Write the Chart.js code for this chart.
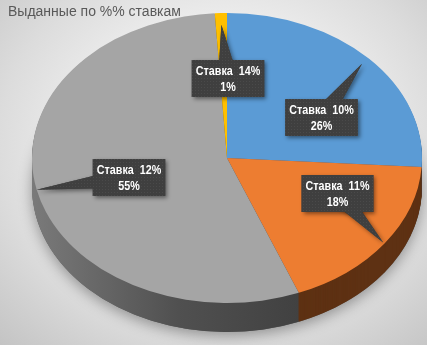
<!DOCTYPE html>
<html><head><meta charset="utf-8">
<script src="https://cdn.jsdelivr.net/npm/chart.js@4"></script>
<style>
html,body{margin:0;padding:0;width:427px;height:345px;overflow:hidden;background:#fff}
#wrap{position:relative;width:427px;height:345px;background:radial-gradient(ellipse 75% 80% at 52% 42%, #ffffff 0%, #f6f6f6 30%, #dcdcdc 70%, #c4c4c4 100%)}
canvas{display:block}
</style></head>
<body><div id="wrap"><canvas id="c" width="427" height="345"></canvas></div>
<script>
// ---- data ----
const categories = ['Ставка  10%', 'Ставка  11%', 'Ставка  12%', 'Ставка  14%'];
const shares = [26, 18, 55, 1];
const titleText = 'Выданные по %% ставкам';

// ---- styles / layout ----
const topColors = ['#5B9BD5', '#ED7D31', '#A5A5A5', '#FFC000'];
const sideColors = ['#2E5C88', '#5E3113', null, '#8C6A00'];
const GEOM = {cx: 227, cy: 158, rx: 195, ry: 145, depth: 29};
const tipFrac = [0.95, 0.99, 1.0, 0.92];
const boxCenter = [[321.5, 117.5], [337.5, 193.5], [129, 177.5], [228, 78.5]];
const labelFont = 'bold 12.5px "Liberation Sans", Arial, sans-serif';
const textSqueeze = 0.86;

function mapCtx(ctx, a0, dy) {
  const r = a0.outerRadius;
  ctx.translate(GEOM.cx, GEOM.cy + dy);
  ctx.scale(GEOM.rx / r, GEOM.ry / r);
  ctx.translate(-a0.x, -a0.y);
}
function slicePath(ctx, arc) {
  ctx.beginPath();
  ctx.moveTo(arc.x, arc.y);
  ctx.arc(arc.x, arc.y, arc.outerRadius, arc.startAngle, arc.endAngle);
  ctx.closePath();
}
function makePattern(ctx) {
  const p = document.createElement('canvas');
  p.width = 3; p.height = 3;
  const c = p.getContext('2d');
  c.fillStyle = '#3f3f3f'; c.fillRect(0, 0, 3, 3);
  c.fillStyle = '#4a4a4a'; c.fillRect(0, 0, 1, 1);
  return ctx.createPattern(p, 'repeat');
}

const pie3d = {
  id: 'pie3d',
  beforeDatasetsDraw(chart) {
    const ctx = chart.ctx, meta = chart.getDatasetMeta(0);
    const a0 = meta.data[0];
    const r = a0.outerRadius;
    // soft shadow under the pie
    ctx.save();
    mapCtx(ctx, a0, GEOM.depth);
    ctx.shadowColor = 'rgba(0,0,0,0.35)';
    ctx.shadowBlur = 14;
    ctx.shadowOffsetY = 4;
    ctx.beginPath();
    ctx.arc(a0.x, a0.y, r, 0, Math.PI * 2);
    ctx.fillStyle = '#555';
    ctx.fill();
    ctx.restore();
    // extruded side
    for (let dy = GEOM.depth; dy >= 1; dy--) {
      ctx.save();
      mapCtx(ctx, a0, dy);
      meta.data.forEach((arc, i) => {
        slicePath(ctx, arc);
        if (sideColors[i]) {
          ctx.fillStyle = sideColors[i];
        } else {
          const g = ctx.createLinearGradient(arc.x - r, 0, arc.x + r * 0.5, 0);
          g.addColorStop(0, '#7a7a7a');
          g.addColorStop(0.5, '#505050');
          g.addColorStop(1, '#3e3e3e');
          ctx.fillStyle = g;
        }
        ctx.fill();
      });
      ctx.restore();
    }
    ctx.save();
    mapCtx(ctx, a0, 0);
  },
  afterDatasetsDraw(chart) {
    const ctx = chart.ctx;
    ctx.restore();
    const meta = chart.getDatasetMeta(0);
    const pat = makePattern(ctx);
    ctx.save();
    ctx.font = labelFont;
    meta.data.forEach((arc, i) => {
      const mid = (arc.startAngle + arc.endAngle) / 2;
      const tx = GEOM.cx + tipFrac[i] * GEOM.rx * Math.cos(mid);
      const ty = GEOM.cy + tipFrac[i] * GEOM.ry * Math.sin(mid);
      const l1 = categories[i], l2 = shares[i] + '%';
      const w = Math.max(ctx.measureText(l1).width, ctx.measureText(l2).width) * textSqueeze + 8;
      const h = 37;
      const [bx, by] = boxCenter[i];
      let vx = tx - bx, vy = ty - by;
      const len = Math.hypot(vx, vy) || 1;
      const px = -vy / len * 10, py = vx / len * 10;
      const shape = () => {
        ctx.beginPath();
        ctx.moveTo(tx, ty);
        ctx.lineTo(bx + px, by + py);
        ctx.lineTo(bx - px, by - py);
        ctx.closePath();
        ctx.fill();
        ctx.fillRect(bx - w / 2, by - h / 2, w, h);
      };
      ctx.save();
      ctx.shadowColor = 'rgba(0,0,0,0.45)';
      ctx.shadowBlur = 4;
      ctx.shadowOffsetX = 2;
      ctx.shadowOffsetY = 2;
      ctx.fillStyle = '#3f3f3f';
      shape();
      ctx.restore();
      ctx.fillStyle = pat;
      shape();
      ctx.save();
      ctx.translate(bx, by);
      ctx.scale(textSqueeze, 1);
      ctx.fillStyle = '#ffffff';
      ctx.textAlign = 'center';
      ctx.textBaseline = 'middle';
      ctx.fillText(l1, 0, -7);
      ctx.fillText(l2, 0, 9);
      ctx.restore();
    });
    ctx.restore();
  }
};

new Chart(document.getElementById('c'), {
  type: 'pie',
  data: {
    labels: categories,
    datasets: [{
      data: shares,
      backgroundColor: topColors,
      borderWidth: 0,
      clip: false
    }]
  },
  options: {
    responsive: false,
    animation: false,
    events: [],
    layout: {padding: {left: 8, right: 8, top: 0, bottom: 6}},
    plugins: {
      legend: {display: false},
      tooltip: {enabled: false},
      title: {
        display: true,
        text: titleText,
        align: 'start',
        color: '#595959',
        font: {family: '"Liberation Sans", Arial, sans-serif', size: 14, weight: 'normal'},
        padding: {top: 4, bottom: 6}
      }
    }
  },
  plugins: [pie3d]
});
</script>
</body></html>
